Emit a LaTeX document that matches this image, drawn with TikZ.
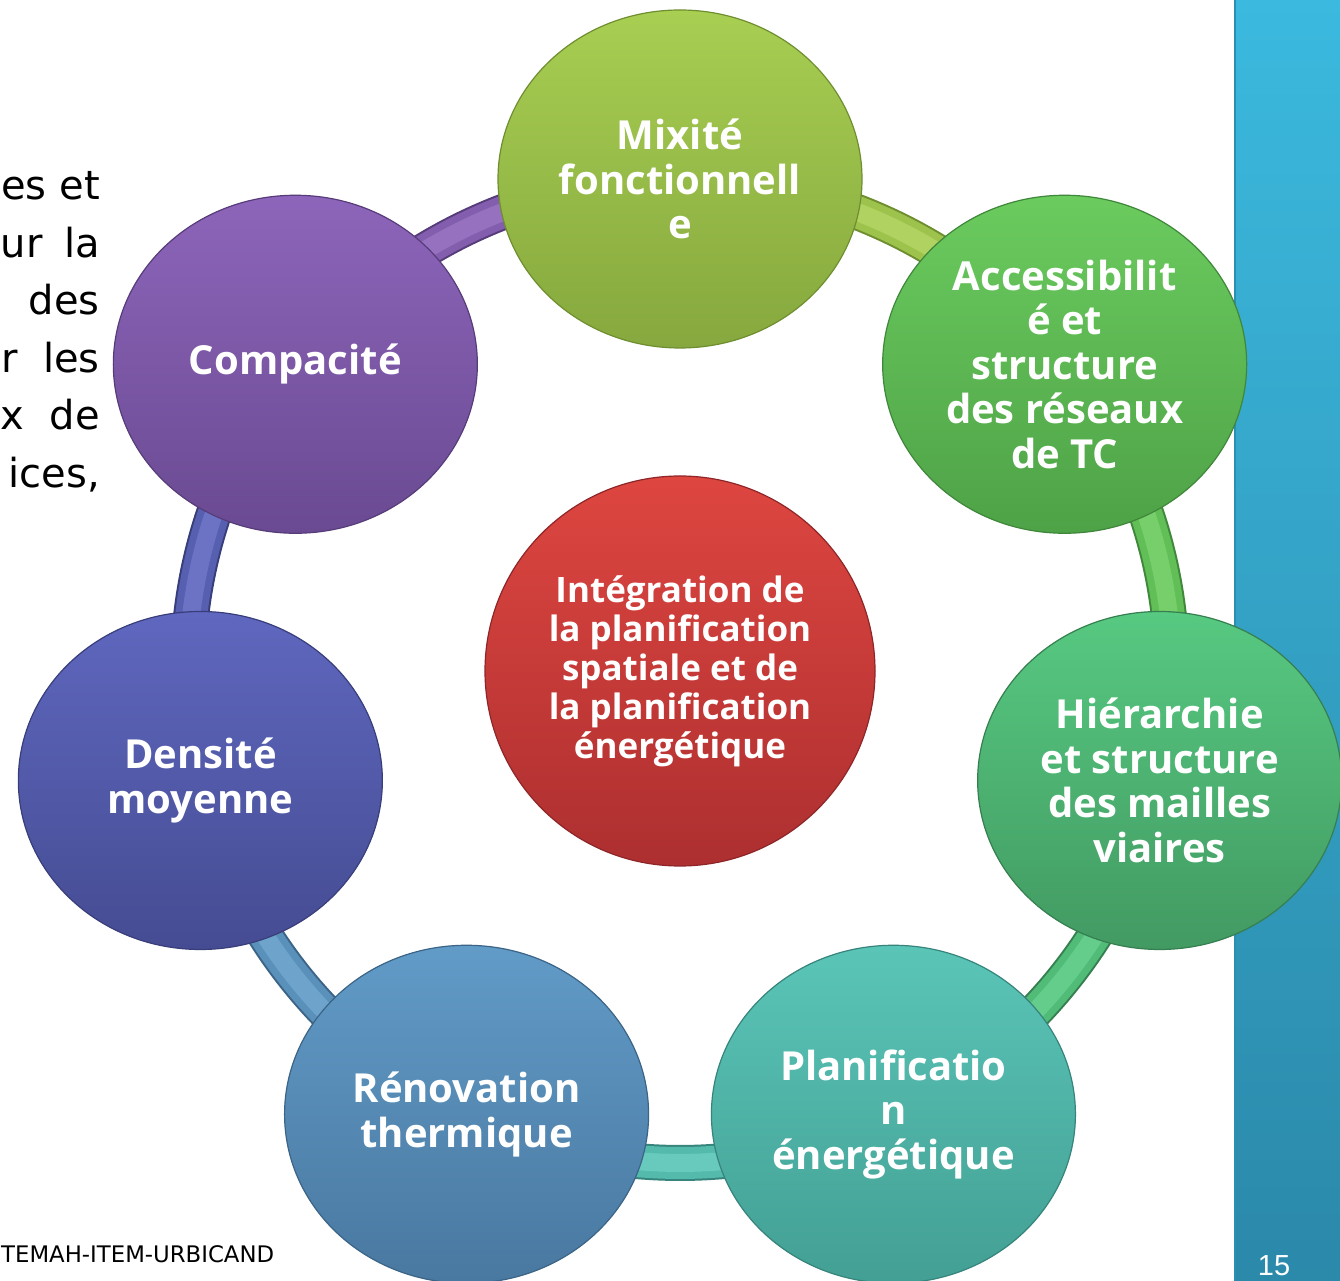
\documentclass[tikz,border=0pt]{standalone}
\usepackage{fontspec}
\setmainfont{Open Sans}
\newfontfamily\numfont{Liberation Sans}
\newfontfamily\bodyfont{DejaVu Sans}
\usetikzlibrary{shapes.geometric,calc}

% colour sets: A = light top, B = dark bottom, C = rim
\definecolor{mixA}{HTML}{A8CE52}\definecolor{mixB}{HTML}{86A83E}\definecolor{mixC}{HTML}{6F8E30}
\definecolor{accA}{HTML}{6BCB5E}\definecolor{accB}{HTML}{4EA247}\definecolor{accC}{HTML}{3F873A}
\definecolor{hieA}{HTML}{57C981}\definecolor{hieB}{HTML}{429A62}\definecolor{hieC}{HTML}{357F50}
\definecolor{plaA}{HTML}{5AC5B7}\definecolor{plaB}{HTML}{439F94}\definecolor{plaC}{HTML}{36847B}
\definecolor{renA}{HTML}{619BC7}\definecolor{renB}{HTML}{4978A0}\definecolor{renC}{HTML}{3B6486}
\definecolor{denA}{HTML}{5F67BF}\definecolor{denB}{HTML}{454C92}\definecolor{denC}{HTML}{383E7A}
\definecolor{comA}{HTML}{8D65BA}\definecolor{comB}{HTML}{6A4A92}\definecolor{comC}{HTML}{573C7A}
\definecolor{cenA}{HTML}{DE4640}\definecolor{cenB}{HTML}{AD2F30}\definecolor{cenC}{HTML}{8E2628}
\definecolor{barA}{HTML}{3BB9DE}\definecolor{barB}{HTML}{2B89AA}\definecolor{barC}{HTML}{2A8FB3}

\pgfdeclarelayer{bg}
\pgfdeclarelayer{ring}
\pgfsetlayers{bg,ring,main}

% one coloured tube of the ring, from a node centre, clockwise to the next one
\newcommand\ringseg[3]{%
  \draw[line width=36pt, #3C] (#1.center) arc[start angle=#2, delta angle=-51.43, radius=492pt];
  \draw[line width=32pt, #3A!70!#3B] (#1.center) arc[start angle=#2, delta angle=-51.43, radius=492pt];
  \draw[line width=18pt, #3A!92!white] (#1.center) arc[start angle=#2, delta angle=-51.43, radius=492pt];
}

\tikzset{
  bubble/.style={ellipse, minimum width=364pt, minimum height=338pt, inner sep=0pt,
    top color=#1A, bottom color=#1B, draw=#1C, line width=1.2pt,
    text=white, align=center, font=\bfseries\fontsize{40}{44.5}\selectfont},
  core/.style={circle, minimum size=390pt, inner sep=0pt,
    top color=cenA, bottom color=cenB, draw=cenC, line width=1.2pt,
    text=white, align=center, font=\bfseries\fontsize{35}{39}\selectfont},
  sidetext/.style={anchor=base east, inner sep=0pt, font=\bodyfont\fontsize{40}{57}\selectfont},
}

\begin{document}
\begin{tikzpicture}[x=1pt,y=1pt]
\useasboundingbox (0,0) rectangle (1340,1280);

\begin{pgfonlayer}{bg}
  \fill[white] (0,0) rectangle (1340,1280);
  \shade[top color=barA, bottom color=barB] (1234,0) rectangle (1340,1280);
  \draw[barC, line width=1.2pt] (1235,0) -- (1235,1280);
\end{pgfonlayer}

% ring centre
\coordinate (o) at (680,609);

% outer bubbles, clockwise from the top
\node[bubble=mix] (mix) at ($(o)+(90:492)$) {Mixité\\fonctionnell\\e};
\node[bubble=acc] (acc) at ($(o)+(38.57:492)$) {Accessibilit\\é et\\structure\\des réseaux\\de TC};
\node[bubble=hie] (hie) at ($(o)+(-12.86:492)$) {Hiérarchie\\et structure\\des mailles\\viaires};
\node[bubble=pla] (pla) at ($(o)+(-64.29:492)$) {Planificatio\\n\\énergétique};
\node[bubble=ren] (ren) at ($(o)+(-115.71:492)$) {Rénovation\\thermique};
\node[bubble=den] (den) at ($(o)+(-167.14:492)$) {Densité\\moyenne};
\node[bubble=com] (com) at ($(o)+(141.43:492)$) {Compacité};

% central bubble
\node[core] (cen) at (o) {Intégration de\\la planification\\spatiale et de\\la planification\\énergétique};

\begin{pgfonlayer}{ring}
  \ringseg{mix}{90}{mix}
  \ringseg{acc}{38.57}{acc}
  \ringseg{hie}{-12.86}{hie}
  \ringseg{pla}{-64.29}{pla}
  \ringseg{ren}{-115.71}{ren}
  \ringseg{den}{-167.14}{den}
  \ringseg{com}{141.43}{com}
\end{pgfonlayer}

% justified body text on the left
\node[sidetext] (t1) at (100,1080) {es et};
\node[sidetext] (t2) at (100,1022.5) {\makebox[99pt][s]{ur\hfill la}};
\node[sidetext] (t3) at (100,965) {des};
\node[sidetext] (t4) at (100,907.5) {\makebox[98pt][s]{r\hfill les}};
\node[sidetext] (t5) at (100,850) {\makebox[99pt][s]{x\hfill de}};
\node[sidetext] (t6) at (100,792.5) {ices,};

% footer
\node[anchor=base west, inner sep=0pt, font=\bodyfont\fontsize{22.8}{28}\selectfont] (foot) at (1,18) {TEMAH-ITEM-URBICAND};
\node[anchor=base, inner sep=0pt, text=white, font=\numfont\fontsize{29}{34}\selectfont] (page) at (1274,5) {15};
\end{tikzpicture}
\end{document}
